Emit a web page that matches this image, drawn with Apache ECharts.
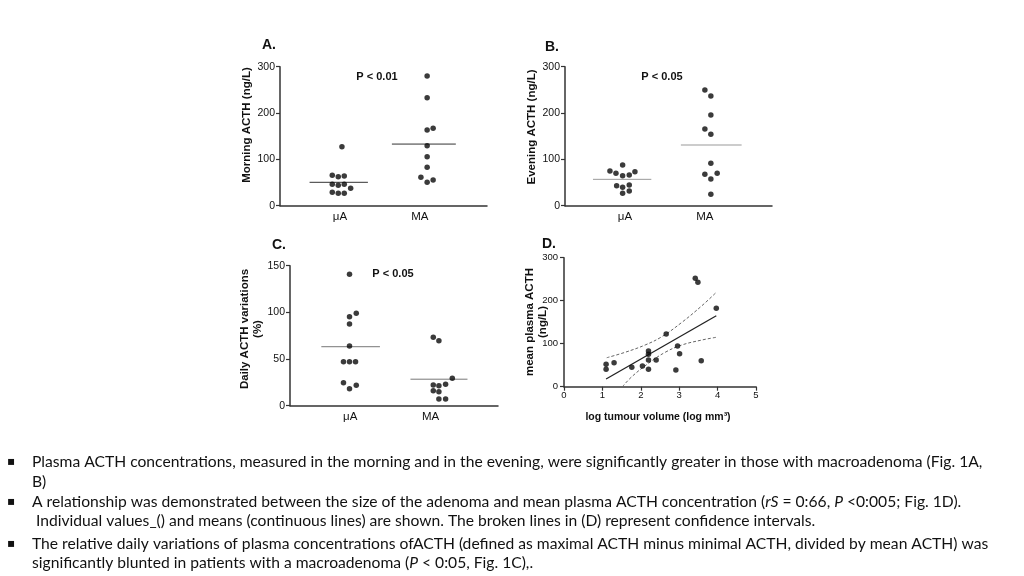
<!DOCTYPE html>
<html><head><meta charset="utf-8">
<script src="https://cdn.jsdelivr.net/npm/echarts@6/dist/echarts.min.js"></script>
<style>html,body{margin:0;padding:0;background:#fff}#c{width:1024px;height:576px}</style>
</head><body><div id="c"></div>
<script>
// ---------- data ----------
const groupLabels = ['μA', 'MA'];
const groupPos = [1, 2];
const acthTicks = [0, 100, 200, 300];
const dailyTicks = [0, 50, 100, 150];
const volumeTicks = [0, 1, 2, 3, 4, 5];

// [jittered group position, value]
const morningMuA = [[1.025,127.3],[0.904,65.6],[0.979,62.6],[1.054,64.1],[0.904,46.2],[0.979,44.0],[1.054,46.2],[1.134,37.6],[0.904,28.9],[0.979,26.8],[1.054,26.8]];
const morningMA = [[2.091,280],[2.091,233],[2.091,163.4],[2.166,167],[2.091,129.5],[2.091,105.8],[2.091,82.9],[2.013,61.3],[2.091,50.5],[2.166,55.5]];
const eveningMuA = [[0.971,87.8],[0.8125,74.9],[0.8875,69.9],[0.971,64.8],[1.054,66.3],[1.125,73.4],[0.896,43.2],[0.971,39.7],[1.054,44.7],[0.971,26.8],[1.054,31.7]];
const eveningMA = [[2.0,249.7],[2.075,236.8],[2.075,195.8],[2.0,165.5],[2.075,154],[2.075,91.5],[2.0,67.7],[2.154,69.9],[2.075,57.6],[2.075,24.6]];
const dailyMuA = [[0.991,140.8],[1.075,99],[0.991,95.4],[0.991,87.5],[0.991,64],[0.916,47.1],[0.991,47.1],[1.066,47.1],[0.916,24.6],[1.075,21.8],[0.991,18.2]];
const dailyMA = [[2.034,73.3],[2.104,69.6],[2.271,29.4],[2.034,22.2],[2.104,21.4],[2.1875,22.9],[2.034,16.1],[2.104,15.0],[2.104,7.2],[2.1875,7.2]];

// group means [μA, MA] and the extent of each mean bar
const morningMeans = [50.5, 133];
const eveningMeans = [56.9, 131];
const dailyMeans = [63.2, 28.4];
const morningSpans = [[0.62, 1.35], [1.65, 2.45]];
const eveningSpans = [[0.60, 1.33], [1.70, 2.46]];
const dailySpans = [[0.64, 1.37], [1.75, 2.46]];

// panel D: [log tumour volume, mean plasma ACTH]
const tumourPoints = [[1.096,52],[1.096,40.4],[1.304,55.8],[1.766,45.1],[2.043,48.1],[2.2,83],[2.2,75.3],[2.2,62.1],[2.2,40.4],[2.4,62.1],[2.661,122.6],[2.957,94.6],[3.01,76.7],[2.913,38.8],[3.574,60.5],[3.418,252],[3.487,242.8],[3.966,182.3]];
const fitLine = [[1.096,17.9],[3.966,165]];
const ciUpper = [[1.113,67.4],[1.591,80],[2.113,97],[2.548,116.3],[3.07,149.7],[3.592,188.4],[3.966,219.5]];
const ciLower = [[1.522,0],[1.766,23.3],[2.2,54.4],[2.635,80],[3.07,97],[3.592,108.6],[3.966,114.9]];

const pValues = ['P < 0.01', 'P < 0.05', 'P < 0.05'];
const panelLetters = ['A.', 'B.', 'C.', 'D.'];

// ---------- chart ----------
const FONT = "'Liberation Sans', Arial, sans-serif";
const AX = '#333';
const chart = echarts.init(document.getElementById('c'), null, {renderer: 'canvas'});

function groupX(idx) {
  return {
    gridIndex: idx, type: 'value', min: 0.25, max: 2.84,
    axisLine: {show: true, lineStyle: {color: AX, width: 1.5}},
    axisTick: {show: false},
    splitLine: {show: false},
    axisLabel: {customValues: groupPos, formatter: v => groupLabels[Math.round(v) - 1] || '',
      fontFamily: FONT, fontSize: 11.5, color: '#111', margin: 5}
  };
}
function valueY(idx, max, interval) {
  return {
    gridIndex: idx, type: 'value', min: 0, max: max, interval: interval,
    axisLine: {show: true, lineStyle: {color: AX, width: 1.5}},
    axisTick: {show: true, length: 4, lineStyle: {color: AX, width: 1.2}},
    splitLine: {show: false},
    axisLabel: {fontFamily: FONT, fontSize: 10.5, color: '#111', margin: 5}
  };
}
function dots(data, xi) {
  return {type: 'scatter', xAxisIndex: xi, yAxisIndex: xi, data: data, symbolSize: 5.5,
    itemStyle: {color: '#0a0a0a'}, silent: true, z: 5};
}
function meanBar(mean, span, xi, color) {
  return {type: 'line', xAxisIndex: xi, yAxisIndex: xi, symbol: 'none', silent: true,
    data: [[span[0], mean], [span[1], mean]], lineStyle: {color: color, width: 1}};
}

// bottom text
const lines = [
  'Plasma ACTH concentrations, measured in the morning and in the evening, were significantly greater in those with macroadenoma (Fig. 1A,',
  'B)',
  'A relationship was demonstrated between the size of the adenoma and mean plasma ACTH concentration ({i|rS} = 0:66, {i|P} <0:005; Fig. 1D).',
  ' Individual values_() and means (continuous lines) are shown. The broken lines in (D) represent confidence intervals.',
  'The relative daily variations of plasma concentrations ofACTH (defined as maximal ACTH minus minimal ACTH, divided by mean ACTH) was',
  'significantly blunted in patients with a macroadenoma ({i|P} < 0:05, Fig. 1C),.'
];
const lineY = [462, 482, 502, 521, 544, 563];
const bulletRows = [0, 2, 4];
const BODY = "Lato, 'Open Sans', sans-serif";
const mctx = document.createElement('canvas').getContext('2d');
mctx.font = '100px ' + BODY;
const bodySize = Math.min(17, 100 * 951 / mctx.measureText(lines[0]).width);

const graphics = [];
lines.forEach((t, i) => {
  graphics.push({type: 'text', x: 32, y: lineY[i], silent: true,
    style: {text: t, fontFamily: BODY, fontSize: bodySize, fill: '#111', verticalAlign: 'middle',
      rich: {i: {fontFamily: BODY, fontSize: bodySize, fontStyle: 'italic', fill: '#111'}}}});
});
bulletRows.forEach(r => graphics.push({type: 'text', x: 7, y: lineY[r], silent: true,
  style: {text: '▪', fontFamily: "'DejaVu Sans', sans-serif", fontSize: 12, fill: '#111', verticalAlign: 'middle'}}));

// panel letters
[[262, 45], [545, 47], [272, 245], [542, 244]].forEach((p, i) => graphics.push({type: 'text', x: p[0], y: p[1], silent: true,
  style: {text: panelLetters[i], fontFamily: FONT, fontWeight: 'bold', fontSize: 14, fill: '#111', verticalAlign: 'middle'}}));
// p-values
[[377, 77], [662, 77], [393, 274]].forEach((p, i) => graphics.push({type: 'text', x: p[0], y: p[1], silent: true,
  style: {text: pValues[i], fontFamily: FONT, fontWeight: 'bold', fontSize: 11, fill: '#111', align: 'center', verticalAlign: 'middle'}}));
// axis titles
const yNames = [
  ['Morning ACTH (ng/L)', 247, 125],
  ['Evening ACTH (ng/L)', 532, 127],
  ['Daily ACTH variations\n(%)', 251.5, 329],
  ['mean plasma ACTH\n(ng/L)', 536, 322]
];
yNames.forEach(n => graphics.push({type: 'text', x: n[1], y: n[2], rotation: Math.PI / 2, silent: true,
  style: {text: n[0], fontFamily: FONT, fontWeight: 'bold', fontSize: 11.5, lineHeight: 13, fill: '#111', align: 'center', verticalAlign: 'middle'}}));
graphics.push({type: 'text', x: 658, y: 417, silent: true,
  style: {text: 'log tumour volume (log mm³)', fontFamily: FONT, fontWeight: 'bold', fontSize: 10.5, fill: '#111', align: 'center', verticalAlign: 'middle'}});

const option = {
  backgroundColor: '#fff',
  animation: false,
  grid: [
    {left: 280, top: 66.7, width: 207, height: 139},
    {left: 565, top: 66.7, width: 207, height: 139},
    {left: 290, top: 265.7, width: 208, height: 140},
    {left: 564, top: 257.7, width: 192, height: 129}
  ],
  xAxis: [
    groupX(0), groupX(1), groupX(2),
    {gridIndex: 3, type: 'value', min: 0, max: 5, interval: 1,
      axisLine: {show: true, lineStyle: {color: AX, width: 1.5}},
      axisTick: {show: true, length: 4, lineStyle: {color: AX, width: 1.2}},
      splitLine: {show: false},
      axisLabel: {fontFamily: FONT, fontSize: 9.5, color: '#111', margin: 4}}
  ],
  yAxis: [
    valueY(0, 300, 100), valueY(1, 300, 100), valueY(2, 150, 50),
    Object.assign(valueY(3, 300, 100), {offset: 2, axisLabel: {fontFamily: FONT, fontSize: 9.5, color: '#111', margin: 4}})
  ],
  series: [
    dots(morningMuA, 0), dots(morningMA, 0),
    meanBar(morningMeans[0], morningSpans[0], 0, '#333'), meanBar(morningMeans[1], morningSpans[1], 0, '#333'),
    dots(eveningMuA, 1), dots(eveningMA, 1),
    meanBar(eveningMeans[0], eveningSpans[0], 1, '#999'), meanBar(eveningMeans[1], eveningSpans[1], 1, '#999'),
    dots(dailyMuA, 2), dots(dailyMA, 2),
    meanBar(dailyMeans[0], dailySpans[0], 2, '#777'), meanBar(dailyMeans[1], dailySpans[1], 2, '#777'),
    dots(tumourPoints, 3),
    {type: 'line', xAxisIndex: 3, yAxisIndex: 3, data: fitLine, symbol: 'none', silent: true,
      lineStyle: {color: '#222', width: 1.3}},
    {type: 'line', xAxisIndex: 3, yAxisIndex: 3, data: ciUpper, symbol: 'none', smooth: 0.4, silent: true,
      lineStyle: {color: '#666', width: 1, type: [3, 2]}},
    {type: 'line', xAxisIndex: 3, yAxisIndex: 3, data: ciLower, symbol: 'none', smooth: 0.4, silent: true,
      lineStyle: {color: '#666', width: 1, type: [3, 2]}}
  ],
  graphic: graphics
};
chart.setOption(option);
</script>
</body></html>
